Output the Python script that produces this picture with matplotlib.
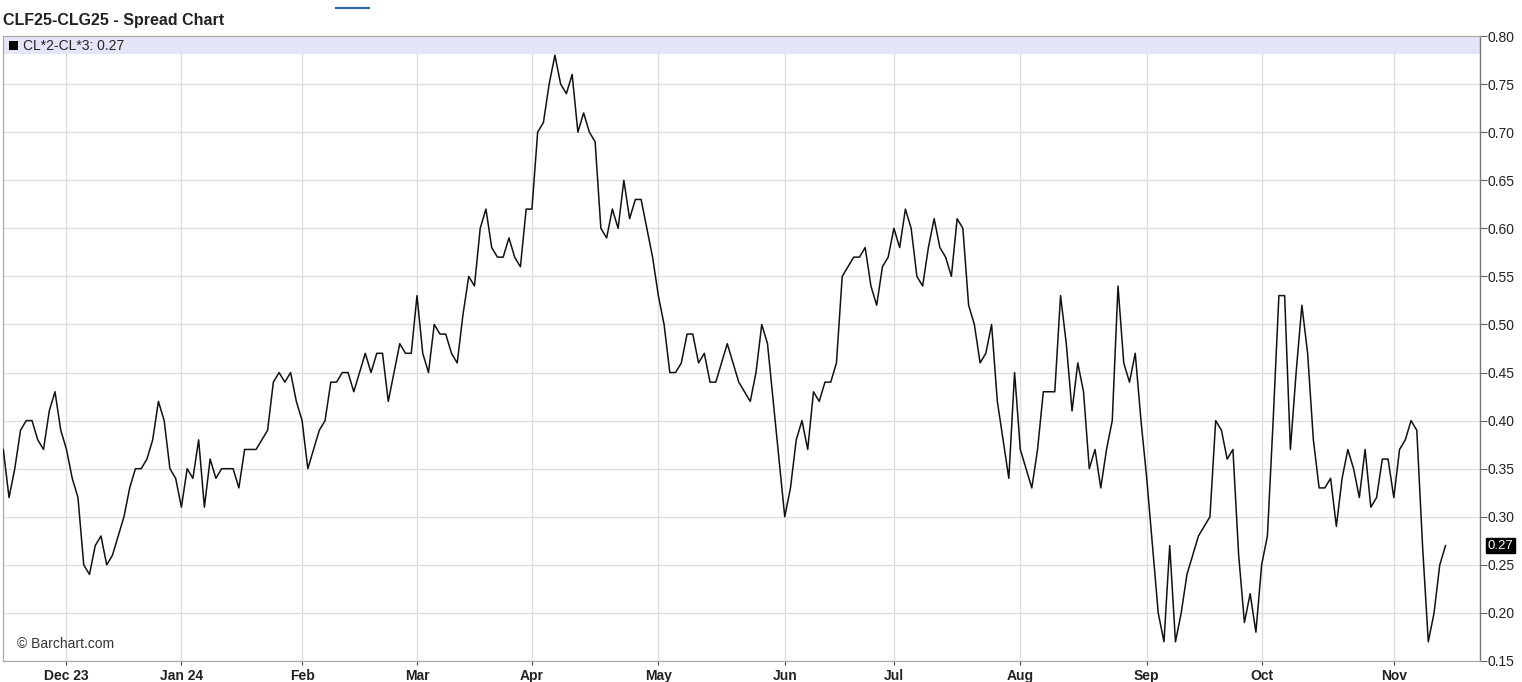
import numpy as np
import pandas as pd
import matplotlib
matplotlib.use('Agg')
import matplotlib.pyplot as plt
from matplotlib.patches import Rectangle
from matplotlib.lines import Line2D

plt.rcParams['font.family'] = ['Liberation Sans', 'DejaVu Sans']

# trading days of the spread (US exchange holidays removed)
holidays = ['2023-11-23', '2023-12-25', '2024-01-01', '2024-01-15', '2024-02-19',
            '2024-03-29', '2024-05-27', '2024-06-19', '2024-07-04', '2024-09-02']
dates = pd.bdate_range('2023-11-15', '2024-11-14', freq='C', holidays=holidays)

# CL*2-CL*3 daily close
spread = [
    0.37, 0.32, 0.35, 0.39, 0.40, 0.40, 0.38, 0.37, 0.41, 0.43,
    0.39, 0.37, 0.34, 0.32, 0.25, 0.24, 0.27, 0.28, 0.25, 0.26,
    0.28, 0.30, 0.33, 0.35, 0.35, 0.36, 0.38, 0.42, 0.40, 0.35,
    0.34, 0.31, 0.35, 0.34, 0.38, 0.31, 0.36, 0.34, 0.35, 0.35,
    0.35, 0.33, 0.37, 0.37, 0.37, 0.38, 0.39, 0.44, 0.45, 0.44,
    0.45, 0.42, 0.40, 0.35, 0.37, 0.39, 0.40, 0.44, 0.44, 0.45,
    0.45, 0.43, 0.45, 0.47, 0.45, 0.47, 0.47, 0.42, 0.45, 0.48,
    0.47, 0.47, 0.53, 0.47, 0.45, 0.50, 0.49, 0.49, 0.47, 0.46,
    0.51, 0.55, 0.54, 0.60, 0.62, 0.58, 0.57, 0.57, 0.59, 0.57,
    0.56, 0.62, 0.62, 0.70, 0.71, 0.75, 0.78, 0.75, 0.74, 0.76,
    0.70, 0.72, 0.70, 0.69, 0.60, 0.59, 0.62, 0.60, 0.65, 0.61,
    0.63, 0.63, 0.60, 0.57, 0.53, 0.50, 0.45, 0.45, 0.46, 0.49,
    0.49, 0.46, 0.47, 0.44, 0.44, 0.46, 0.48, 0.46, 0.44, 0.43,
    0.42, 0.45, 0.50, 0.48, 0.42, 0.36, 0.30, 0.33, 0.38, 0.40,
    0.37, 0.43, 0.42, 0.44, 0.44, 0.46, 0.55, 0.56, 0.57, 0.57,
    0.58, 0.54, 0.52, 0.56, 0.57, 0.60, 0.58, 0.62, 0.60, 0.55,
    0.54, 0.58, 0.61, 0.58, 0.57, 0.55, 0.61, 0.60, 0.52, 0.50,
    0.46, 0.47, 0.50, 0.42, 0.38, 0.34, 0.45, 0.37, 0.35, 0.33,
    0.37, 0.43, 0.43, 0.43, 0.53, 0.48, 0.41, 0.46, 0.43, 0.35,
    0.37, 0.33, 0.37, 0.40, 0.54, 0.46, 0.44, 0.47, 0.40, 0.34,
    0.27, 0.20, 0.17, 0.27, 0.17, 0.20, 0.24, 0.26, 0.28, 0.29,
    0.30, 0.40, 0.39, 0.36, 0.37, 0.26, 0.19, 0.22, 0.18, 0.25,
    0.28, 0.40, 0.53, 0.53, 0.37, 0.45, 0.52, 0.47, 0.38, 0.33,
    0.33, 0.34, 0.29, 0.34, 0.37, 0.35, 0.32, 0.37, 0.31, 0.32,
    0.36, 0.36, 0.32, 0.37, 0.38, 0.40, 0.39, 0.27, 0.17, 0.20,
    0.25, 0.27,
]

month_labels = ['Dec 23', 'Jan 24', 'Feb', 'Mar', 'Apr', 'May', 'Jun',
                'Jul', 'Aug', 'Sep', 'Oct', 'Nov']
y_ticks = [0.15, 0.20, 0.25, 0.30, 0.35, 0.40, 0.45, 0.50, 0.55, 0.60,
           0.65, 0.70, 0.75, 0.80]

title = 'CLF25-CLG25 - Spread Chart'
series_name = 'CL*2-CL*3'

W, H = 1522, 682
fig = plt.figure(figsize=(W / 100, H / 100), dpi=100)
ax = fig.add_axes([3 / W, 1 - 661 / H, (1480 - 3) / W, (661 - 36) / H])

x = np.arange(len(spread))
ax.plot(x, spread, color='#111111', linewidth=1.1, zorder=5)

# month ticks at the first trading day of each month
period = dates.to_period('M')
first_idx = [i for i in range(1, len(dates)) if period[i] != period[i - 1]]
ax.set_xticks(first_idx)
ax.set_xticklabels(month_labels, fontweight='bold', fontsize=10, color='#222222')
ax.set_xlim(-0.05, len(spread) - 1 + 6)
ax.set_ylim(0.15, 0.80)

ax.yaxis.tick_right()
ax.set_yticks(y_ticks)
ax.set_yticklabels([f'{v:.2f}' for v in y_ticks], fontsize=10, color='#222222')
ax.tick_params(axis='y', length=5, width=0.8, color='#666666', pad=0.5)
ax.tick_params(axis='x', length=3, width=0.8, color='#444444', pad=3)

ax.grid(True, color='#dddddd', linewidth=0.9, zorder=0)
ax.set_axisbelow(True)
for side in ['left', 'top', 'bottom']:
    ax.spines[side].set_color('#aaaaaa')
    ax.spines[side].set_linewidth(0.9)
ax.spines['right'].set_color('#777777')
ax.spines['right'].set_linewidth(1.0)

# legend band across the top of the plot
band_h = 18 / 625
ax.add_patch(Rectangle((0, 1 - band_h), 1, band_h, transform=ax.transAxes,
                       facecolor='#e1e3f8', edgecolor='none', alpha=0.9, zorder=1))
ax.add_patch(Rectangle((6 / 1477, 1 - 14 / 625), 9 / 1477, 9 / 625, transform=ax.transAxes,
                       facecolor='#000000', edgecolor='none', zorder=6))
ax.text(20 / 1477, 1 - 9.5 / 625, f'{series_name}: {spread[-1]:.2f}', transform=ax.transAxes,
        fontsize=10, color='#222222', va='center', ha='left', zorder=6)

# last value marker on the price axis
ax.annotate(f'{spread[-1]:.2f}', xy=(1, spread[-1]), xycoords=('axes fraction', 'data'),
            xytext=(8, 0), textcoords='offset pixels', va='center', ha='left',
            fontsize=9.5, color='white',
            bbox=dict(boxstyle='square,pad=0.12', facecolor='black', edgecolor='black'),
            annotation_clip=False)

ax.text(14 / 1477, 17 / 625, '© Barchart.com', transform=ax.transAxes,
        fontsize=10, color='#333333', va='center', ha='left')

fig.text(3 / W, 1 - 21 / H, title, fontsize=11.5, fontweight='bold',
         color='#222222', va='center', ha='left')
fig.add_artist(Line2D([336 / W, 369 / W], [1 - 8 / H, 1 - 8 / H],
                      transform=fig.transFigure, color='#2a64a0', linewidth=1.5))

fig.savefig('out.png', dpi=100)
